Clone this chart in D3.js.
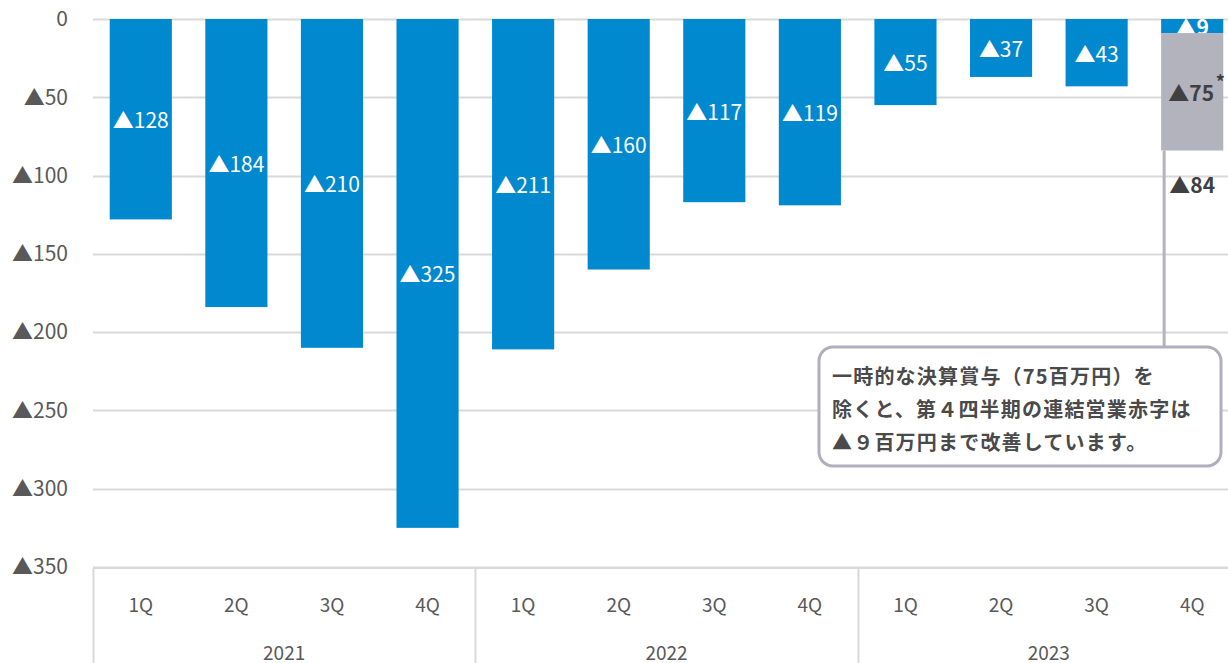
<!DOCTYPE html>
<html>
<head>
<meta charset="utf-8">
<script src="https://cdn.jsdelivr.net/npm/d3@7"></script>
<style>
  html, body { margin: 0; padding: 0; background: #fff; }
  svg { display: block; font-family: "Noto Sans CJK JP", "Noto Sans", sans-serif; }
</style>
</head>
<body>
<svg id="chart" width="1228" height="663"></svg>
<script>
// Quarterly consolidated operating result (million yen; negative = loss)
const years = ["2021", "2022", "2023"];
const quarters = ["1Q", "2Q", "3Q", "4Q"];
const values = [-128, -184, -210, -325, -211, -160, -117, -119, -55, -37, -43, -84];
// 4Q 2023 split: underlying loss and one-time bonus
const underlying4Q = -9;
const oneTimeBonus = -75;
const yTicks = [0, -50, -100, -150, -200, -250, -300, -350];
const noteLines = [
  "一時的な決算賞与（75百万円）を",
  "除くと、第４四半期の連結営業赤字は",
  "▲９百万円まで改善しています。"
];

const cats = [];
years.forEach(y => quarters.forEach(q => cats.push(y + "-" + q)));

const svg = d3.select("#chart");
const plotLeft = 93, plotRight = 1240, plotTop = 19, plotBottom = 567;

const x = d3.scaleBand().domain(cats).range([plotLeft, plotRight]).paddingInner(0.35).paddingOuter(0.175);
const y = d3.scaleLinear().domain([-350, 0]).range([plotBottom, plotTop]);

const fmt = v => v === 0 ? "0" : "▲" + Math.abs(v);

// gridlines
svg.append("g").selectAll("line").data(yTicks).join("line")
  .attr("x1", plotLeft).attr("x2", 1228)
  .attr("y1", d => Math.round(y(d)) + 0.5).attr("y2", d => Math.round(y(d)) + 0.5)
  .attr("stroke", "#d9d9d9").attr("stroke-width", 2);

// y axis labels
const yAxis = d3.axisLeft(y).tickValues(yTicks).tickFormat(fmt).tickSize(0).tickPadding(0);
const gy = svg.append("g").attr("transform", "translate(68,0)").call(yAxis);
gy.select(".domain").remove();
gy.selectAll("text").attr("fill", "#595959").style("font-size", "21px")
  .style("font-family", "'Noto Sans CJK JP', sans-serif");

// bars
const barColor = "#0189cf";
const bars = cats.map((c, i) => ({ c, v: i === cats.length - 1 ? underlying4Q : values[i] }));
svg.append("g").selectAll("rect").data(bars).join("rect")
  .attr("x", d => x(d.c)).attr("width", x.bandwidth())
  .attr("y", y(0)).attr("height", d => y(d.v) - y(0))
  .attr("fill", barColor);

// value labels inside blue bars
svg.append("g").selectAll("text").data(bars).join("text")
  .attr("x", d => x(d.c) + x.bandwidth() / 2)
  .attr("y", d => (y(0) + y(d.v)) / 2)
  .attr("text-anchor", "middle").attr("dominant-baseline", "central")
  .attr("fill", "#fff").style("font-size", "21px")
  .style("font-weight", (d, i) => i === bars.length - 1 ? "bold" : "normal")
  .text(d => fmt(d.v));

// one-time bonus segment stacked under 4Q 2023
const lastCat = cats[cats.length - 1];
const total4Q = values[values.length - 1];
const grey = "#b3b3be";
svg.append("rect")
  .attr("x", x(lastCat)).attr("width", x.bandwidth())
  .attr("y", y(underlying4Q)).attr("height", y(underlying4Q + oneTimeBonus) - y(underlying4Q))
  .attr("fill", grey);

const lx = x(lastCat) + x.bandwidth() / 2;
svg.append("text")
  .attr("x", lx - 1).attr("y", (y(underlying4Q) + y(underlying4Q + oneTimeBonus)) / 2)
  .attr("text-anchor", "middle").attr("dominant-baseline", "central")
  .attr("fill", "#404040").style("font-size", "21px").style("font-weight", "bold")
  .text(fmt(oneTimeBonus));
svg.append("text")
  .attr("x", lx + 28).attr("y", y(underlying4Q + oneTimeBonus / 2) - 11)
  .attr("text-anchor", "middle").attr("dominant-baseline", "central")
  .attr("fill", "#404040").style("font-size", "18px").style("font-weight", "bold")
  .text("*");
svg.append("text")
  .attr("x", lx) .attr("y", y(total4Q) + 33)
  .attr("text-anchor", "middle").attr("dominant-baseline", "central")
  .attr("fill", "#404040").style("font-size", "21px").style("font-weight", "bold")
  .text(fmt(total4Q));

// category axis
const axisY = plotBottom + 1;
svg.append("line").attr("x1", plotLeft).attr("x2", 1228).attr("y1", axisY).attr("y2", axisY)
  .attr("stroke", "#d9d9d9").attr("stroke-width", 2);
svg.append("g").selectAll("text").data(cats).join("text")
  .attr("x", d => x(d) + x.bandwidth() / 2).attr("y", 603)
  .attr("text-anchor", "middle").attr("dominant-baseline", "central")
  .attr("fill", "#595959").style("font-size", "19px")
  .text(d => d.split("-")[1]);

// year groups
const step = x.step();
const groupEdges = years.map((yr, i) => plotLeft + i * 4 * step);
svg.append("g").selectAll("line").data(groupEdges).join("line")
  .attr("x1", d => Math.round(d) + 0.5).attr("x2", d => Math.round(d) + 0.5)
  .attr("y1", axisY).attr("y2", 663)
  .attr("stroke", "#d9d9d9").attr("stroke-width", 2);
svg.append("g").selectAll("text").data(years).join("text")
  .attr("x", (d, i) => plotLeft + (i * 4 + 2) * step).attr("y", 651)
  .attr("text-anchor", "middle").attr("dominant-baseline", "central")
  .attr("fill", "#595959").style("font-size", "19px")
  .text(d => d);

// callout connector and box
const boxX = 819, boxY = 347, boxW = 402, boxH = 119;
svg.append("line")
  .attr("x1", x(lastCat) + 3).attr("x2", x(lastCat) + 3)
  .attr("y1", y(total4Q)).attr("y2", boxY)
  .attr("stroke", grey).attr("stroke-width", 3);
svg.append("rect")
  .attr("x", boxX).attr("y", boxY).attr("width", boxW).attr("height", boxH)
  .attr("rx", 14).attr("ry", 14)
  .attr("fill", "#fff").attr("stroke", "#b0b0bc").attr("stroke-width", 3);
svg.append("g").selectAll("text").data(noteLines).join("text")
  .attr("x", 832).attr("y", (d, i) => 375 + i * 33)
  .attr("dominant-baseline", "central")
  .attr("fill", "#4a4a4a").style("font-size", "20px").style("font-weight", "bold")
  .style("letter-spacing", "1.2px")
  .text(d => d);
</script>
</body>
</html>
